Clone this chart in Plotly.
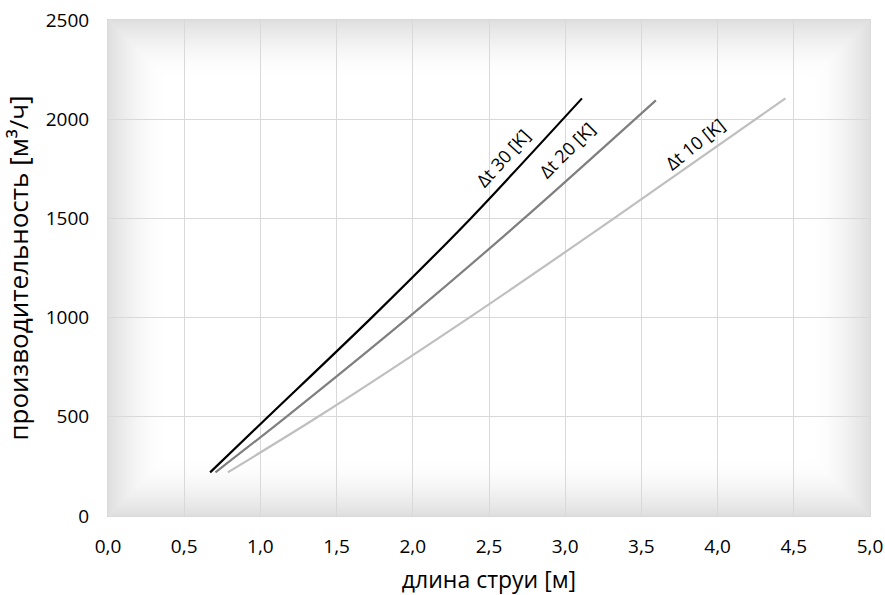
import base64, struct, zlib
import numpy as np
import plotly.graph_objects as go

# ---- data ----
x_dt30 = [0.67, 1.05, 1.73, 2.38, 3.11]
y_dt30 = [220, 500, 1000, 1500, 2105]
x_dt20 = [0.705, 1.17, 1.97, 2.73, 3.595]
y_dt20 = [220, 500, 1000, 1500, 2095]
x_dt10 = [0.786, 1.378, 2.37, 3.32, 4.445]
y_dt10 = [220, 500, 1000, 1500, 2105]

series_names = ["Δt 30 [K]", "Δt 20 [K]", "Δt 10 [K]"]
series_colors = ["#000000", "#7f7f7f", "#bfbfbf"]

label_x = [2.59, 3.01, 3.85]
label_y = [1805, 1845, 1875]
label_angle = [-48, -45, -39]

x_ticks = [0, 0.5, 1.0, 1.5, 2.0, 2.5, 3.0, 3.5, 4.0, 4.5, 5.0]
x_ticktext = ["0,0", "0,5", "1,0", "1,5", "2,0", "2,5", "3,0", "3,5", "4,0", "4,5", "5,0"]
y_ticks = [0, 500, 1000, 1500, 2000, 2500]

FONT = "Open Sans"

# ---- background gradient image (plot-area decoration) ----
W, H = 763, 497
xs = np.arange(W) + 0.5
ys = np.arange(H) + 0.5
dx = np.minimum(xs, W - xs)[None, :]
dy = np.minimum(ys, H - ys)[:, None]
d = np.minimum(dx, dy)
f = np.clip(1 - d / 55.0, 0, 1) ** 1.6
val = (255 - 32 * f).astype(np.uint8)
img = np.stack([val, val, val], axis=-1)

def to_png(a):
    h, w, _ = a.shape
    raw = b"".join(b"\x00" + a[r].tobytes() for r in range(h))
    def chunk(t, data):
        c = struct.pack(">I", len(data)) + t + data
        return c + struct.pack(">I", zlib.crc32(t + data) & 0xffffffff)
    return (b"\x89PNG\r\n\x1a\n" + chunk(b"IHDR", struct.pack(">IIBBBBB", w, h, 8, 2, 0, 0, 0))
            + chunk(b"IDAT", zlib.compress(raw, 9)) + chunk(b"IEND", b""))

png_uri = "data:image/png;base64," + base64.b64encode(to_png(img)).decode()

fig = go.Figure()
for xv, yv, c in zip([x_dt30, x_dt20, x_dt10], [y_dt30, y_dt20, y_dt10], series_colors):
    fig.add_trace(go.Scatter(x=xv, y=yv, mode="lines",
                             line=dict(color=c, width=2.2, shape="spline", smoothing=0.8),
                             showlegend=False, hoverinfo="skip"))

for name, lx, ly, ang in zip(series_names, label_x, label_y, label_angle):
    fig.add_annotation(x=lx, y=ly, text=name, textangle=ang, showarrow=False,
                       font=dict(family=FONT, size=18, color="#000000"))

fig.add_layout_image(dict(source=png_uri, xref="x", yref="y", x=0, y=2500,
                          sizex=5, sizey=2500, sizing="stretch", layer="below"))

grid = "#d9d9d9"
fig.update_layout(
    width=885, height=595,
    margin=dict(l=107.5, r=15, t=19.5, b=78.5),
    paper_bgcolor="white", plot_bgcolor="white",
    font=dict(family=FONT, size=19, color="#000000"),
    xaxis=dict(range=[0, 5], tickvals=x_ticks, ticktext=x_ticktext,
               showgrid=True, gridcolor=grid, gridwidth=1,
               showline=True, linecolor=grid, linewidth=1, mirror=True,
               zeroline=False, ticks="", ticklabelstandoff=13,
               tickfont=dict(family=FONT, size=19),
               title=dict(text="длина струи [м]", font=dict(family=FONT, size=23), standoff=18),
               automargin=False),
    yaxis=dict(range=[0, 2500], tickvals=y_ticks,
               showgrid=True, gridcolor=grid, gridwidth=1,
               showline=True, linecolor=grid, linewidth=1, mirror=True,
               zeroline=False, ticks="", ticklabelstandoff=14,
               tickfont=dict(family=FONT, size=19),
               title=dict(text="производительность [м³/ч]", font=dict(family=FONT, size=26), standoff=14),
               automargin=False),
)

fig.write_html("out.html", config={"displayModeBar": False},
               post_script="document.body.style.margin='0';")
